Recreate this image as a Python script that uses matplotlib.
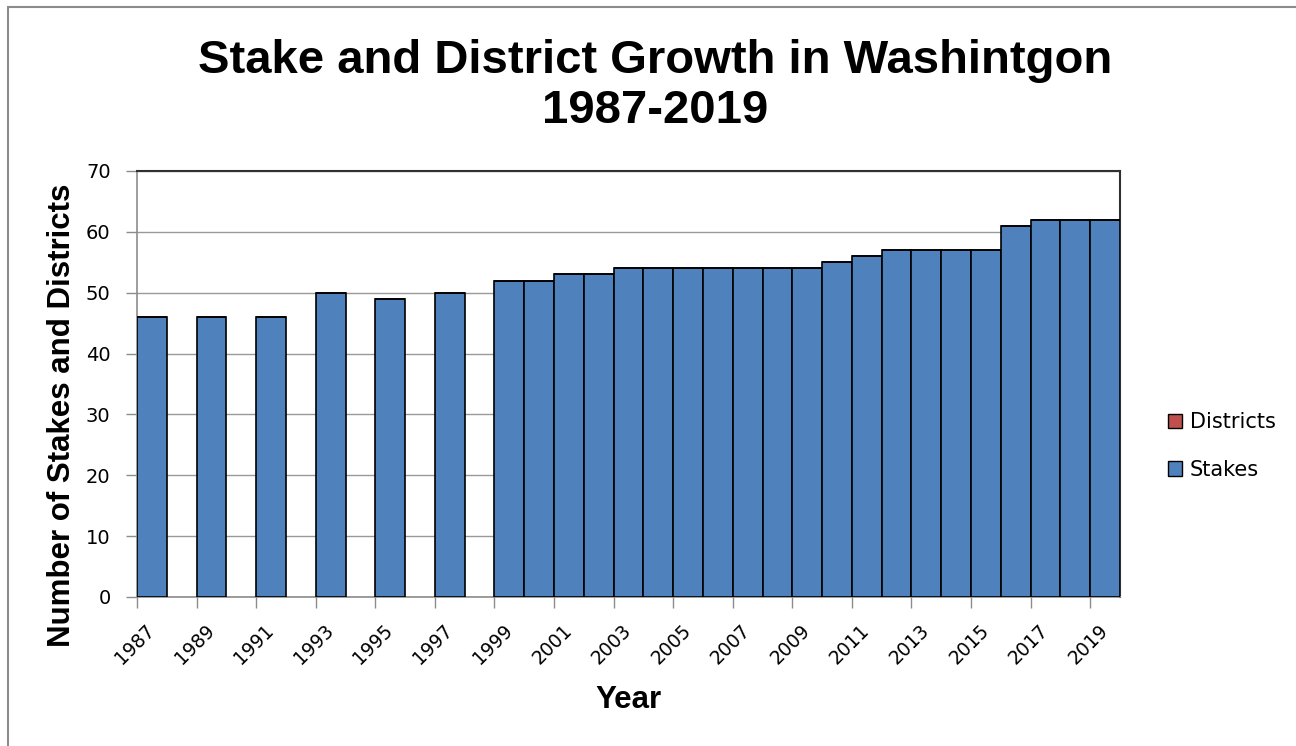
import matplotlib.pyplot as plt
from matplotlib.patches import Patch, Rectangle

# data
years = [1987, 1989, 1991, 1993, 1995, 1997,
         1999, 2000, 2001, 2002, 2003, 2004, 2005, 2006, 2007, 2008, 2009,
         2010, 2011, 2012, 2013, 2014, 2015, 2016, 2017, 2018, 2019]
stakes = [46, 46, 46, 50, 49, 50,
          52, 52, 53, 53, 54, 54, 54, 54, 54, 54, 54,
          55, 56, 57, 57, 57, 57, 61, 62, 62, 62]
districts = [0, 0, 0, 0, 0, 0,
             0, 0, 0, 0, 0, 0, 0, 0, 0, 0, 0,
             0, 0, 0, 0, 0, 0, 0, 0, 0, 0]
first_year, last_year = 1987, 2019
label_years = list(range(1987, 2020, 2))
y_ticks = [0, 10, 20, 30, 40, 50, 60, 70]

blue = '#4F81BD'
red = '#C0504D'
grey = '#8C8C8C'

W, H = 1296, 746
fig = plt.figure(figsize=(W / 100, H / 100), dpi=100)
fig.patch.set_facecolor('white')

# outer chart border (left and top visible in the reference)
fig.patches.append(Rectangle((8 / W, -0.1), 1.2, 1.1 - 7 / H, transform=fig.transFigure,
                             fill=False, edgecolor='#8C8C8C', linewidth=1.5))

ax = fig.add_axes([137 / W, 1 - 597 / H, (1120 - 137) / W, (597 - 171) / H])

ax.bar(years, stakes, width=1.0, color=blue, edgecolor='black', linewidth=1.2, zorder=3)
ax.bar(years, districts, bottom=stakes, width=1.0, color=red, edgecolor='black',
       linewidth=1.2, zorder=3)

ax.set_xlim(first_year - 0.5, last_year + 0.5)
ax.set_ylim(0, 70)
ax.set_yticks(y_ticks)
ax.yaxis.grid(True, color='#999999', linewidth=1.0, zorder=0)
ax.tick_params(axis='y', direction='out', length=8, width=1, color=grey,
               labelsize=14, pad=11)

# labels at category centres, tick marks at every second category boundary
ax.set_xticks(label_years)
ax.set_xticklabels([str(y) for y in label_years], rotation=45, ha='right', va='center',
                   rotation_mode='anchor', fontsize=13.5)
ax.tick_params(axis='x', which='major', length=0, pad=22)
ax.set_xticks([first_year - 0.5 + 2 * k for k in range((last_year - first_year) // 2 + 1)],
              minor=True)
ax.tick_params(axis='x', which='minor', direction='out', length=8, width=1, color=grey)

for side in ['left', 'bottom']:
    ax.spines[side].set_color(grey)
    ax.spines[side].set_linewidth(1.2)
for side in ['top', 'right']:
    ax.spines[side].set_color('#303030')
    ax.spines[side].set_linewidth(1.5)

fig.text(655 / W, 1 - 73 / H, 'Stake and District Growth in Washintgon',
         ha='center', va='baseline', fontsize=34, fontweight='bold', family='Liberation Sans')
fig.text(655 / W, 1 - 123 / H, '1987-2019',
         ha='center', va='baseline', fontsize=34, fontweight='bold', family='Liberation Sans')
fig.text(62 / W, 1 - 415 / H, 'Number of Stakes and Districts', rotation=90,
         ha='center', va='center', fontsize=22.5, fontweight='bold', family='Liberation Sans')
fig.text(628 / W, 1 - 700 / H, 'Year', ha='center', va='center', fontsize=22.5,
         fontweight='bold', family='Liberation Sans')

handles = [Patch(facecolor=red, edgecolor='black', label='Districts'),
           Patch(facecolor=blue, edgecolor='black', label='Stakes')]
fig.legend(handles=handles, loc='center left', bbox_to_anchor=(1149 / W, 1 - 446 / H),
           frameon=False, fontsize=15, handlelength=0.7, handleheight=0.7,
           handletextpad=0.35, labelspacing=1.3)

fig.savefig('out.png', dpi=100)
